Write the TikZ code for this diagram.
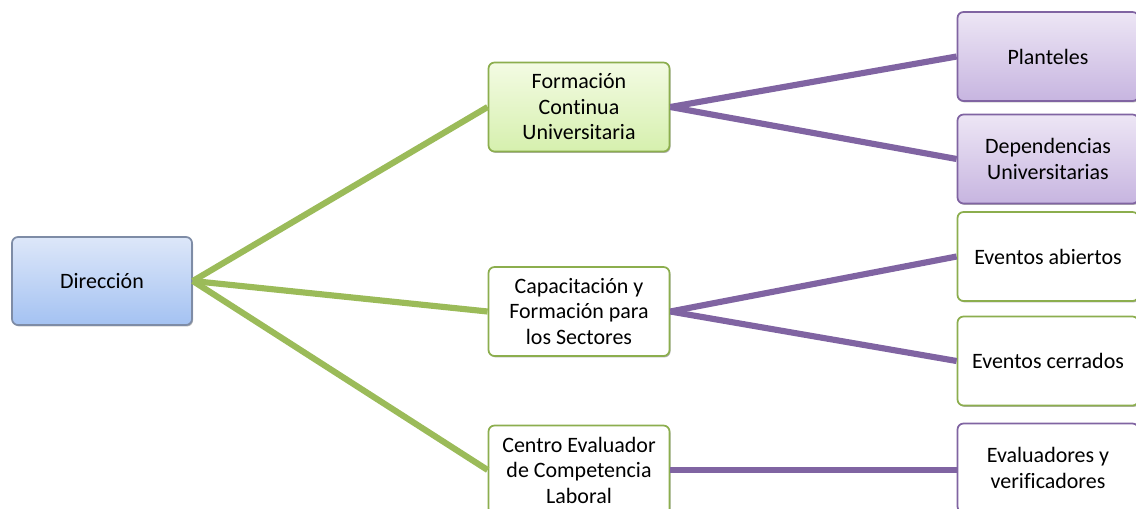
\documentclass[tikz,border=0pt]{standalone}
\usepackage{fontspec}
\setmainfont{Carlito}[Ligatures=NoCommon]
\usetikzlibrary{shadows}

\definecolor{ramaverde}{HTML}{9BBB59}
\definecolor{ramamorado}{HTML}{8064A2}
\definecolor{bordeazul}{HTML}{7E8CA6}
\definecolor{bordeverde}{HTML}{8CAE4E}
\definecolor{azularriba}{HTML}{DDE7F9}
\definecolor{azulabajo}{HTML}{A4C2F2}
\definecolor{verdearriba}{HTML}{F3FBE3}
\definecolor{verdeabajo}{HTML}{D6F0AE}
\definecolor{moradoarriba}{HTML}{EDE6F5}
\definecolor{moradoabajo}{HTML}{C7B5E0}

\begin{document}
\begin{tikzpicture}[
  caja/.style={rectangle, rounded corners=0.12cm, line width=1pt,
    minimum width=3.62cm, minimum height=1.78cm, align=center,
    font=\fontsize{12.5}{14.5}\selectfont,
    drop shadow={shadow xshift=0.6pt, shadow yshift=-0.8pt, opacity=0.6}},
  cajaazul/.style={caja, draw=bordeazul, top color=azularriba, bottom color=azulabajo},
  cajaverde/.style={caja, draw=bordeverde, top color=verdearriba, bottom color=verdeabajo},
  cajablanca/.style={caja, draw=bordeverde, fill=white},
  cajamorada/.style={caja, draw=ramamorado, top color=moradoarriba, bottom color=moradoabajo},
  cajalila/.style={caja, draw=ramamorado, fill=white},
  verde/.style={ramaverde, line width=3.5pt},
  morado/.style={ramamorado, line width=3.5pt}]
\useasboundingbox (0,0) rectangle (22.72,-10.16);

\node[cajaazul, minimum width=3.6cm, minimum height=1.76cm] (dir) at (2.04,-5.62) {Dirección};

\node[cajaverde] (fcu) at (11.58,-2.14) {Formación\\Continua\\Universitaria};
\node[cajablanca] (cap) at (11.58,-6.23) {Capacitación y\\Formación para\\los Sectores};
\node[cajablanca] (cec) at (11.58,-9.4) {Centro Evaluador\\de Competencia\\Laboral};

\node[cajamorada] (pla) at (20.96,-1.13) {Planteles};
\node[cajamorada] (dep) at (20.96,-3.18) {Dependencias\\Universitarias};
\node[cajablanca] (eab) at (20.96,-5.13) {Eventos abiertos};
\node[cajablanca] (ece) at (20.96,-7.22) {Eventos cerrados};
\node[cajalila] (eva) at (20.96,-9.36) {Evaluadores y\\verificadores};

% ramas
\draw[verde] (dir.east) -- (fcu.west);
\draw[verde] (dir.east) -- (cap.west);
\draw[verde] (dir.east) -- (cec.west);

\draw[morado] (fcu.east) -- (pla.west);
\draw[morado] (fcu.east) -- (dep.west);
\draw[morado] (cap.east) -- (eab.west);
\draw[morado] (cap.east) -- (ece.west);
\draw[morado] (cec.east) -- (eva.west |- cec.east);
\end{tikzpicture}
\end{document}
